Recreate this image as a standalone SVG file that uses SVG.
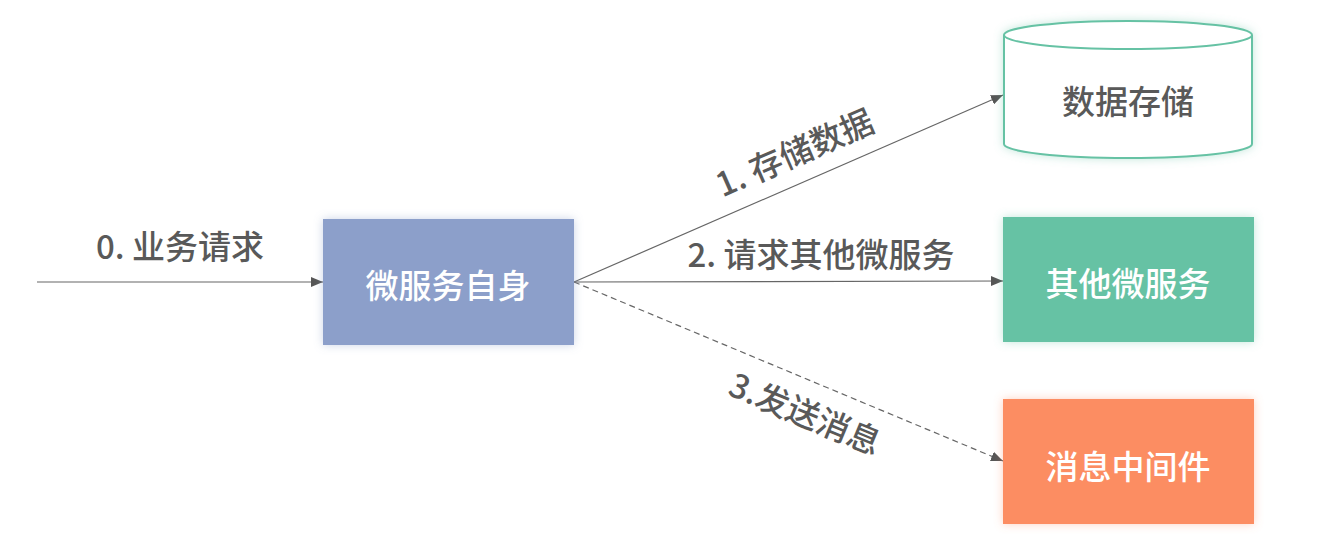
<svg xmlns="http://www.w3.org/2000/svg" width="1320" height="547" viewBox="0 0 1320 547">
<style>
.lbl{font-family:"Noto Sans CJK SC","Noto Sans",sans-serif;font-size:33px;font-weight:500;fill:#595959;text-anchor:middle;dominant-baseline:central}
.ntx{font-family:"Noto Sans CJK SC","Noto Sans",sans-serif;font-size:33px;font-weight:500;fill:#ffffff;text-anchor:middle;dominant-baseline:central}
.ctx{font-family:"Noto Sans CJK SC","Noto Sans",sans-serif;font-size:33px;font-weight:500;fill:#595959;text-anchor:middle;dominant-baseline:central}
.ln{stroke:#666666;stroke-width:1.2;fill:none}
</style>
<defs>
<marker id="ah" viewBox="0 0 12 10" refX="12" refY="5" markerWidth="12" markerHeight="10" markerUnits="userSpaceOnUse" orient="auto">
<path d="M0,0 L12,5 L0,10 Z" fill="#555555"/>
</marker>
<filter id="gb" x="-20%" y="-30%" width="140%" height="160%"><feDropShadow dx="0" dy="0" stdDeviation="5" flood-color="#8c9fca" flood-opacity="0.45"/></filter>
<filter id="gg" x="-20%" y="-30%" width="140%" height="160%"><feDropShadow dx="0" dy="0" stdDeviation="5" flood-color="#66c2a4" flood-opacity="0.4"/></filter>
<filter id="go" x="-20%" y="-30%" width="140%" height="160%"><feDropShadow dx="0" dy="0" stdDeviation="5" flood-color="#fc8d62" flood-opacity="0.4"/></filter>
</defs>
<g id="connectors">
<line class="ln" x1="37" y1="282" x2="323" y2="282" marker-end="url(#ah)"/>
<line class="ln" x1="574" y1="282" x2="1003" y2="95" marker-end="url(#ah)"/>
<line class="ln" x1="574" y1="282" x2="1003" y2="281" marker-end="url(#ah)"/>
<line class="ln" x1="574" y1="282" x2="1003" y2="461" stroke-dasharray="6,4" marker-end="url(#ah)"/>
<text class="lbl" x="180" y="245">0. 业务请求</text>
<text class="lbl" transform="translate(794,151) rotate(-23.6)">1. 存储数据</text>
<text class="lbl" x="821" y="253">2. 请求其他微服务</text>
<text class="lbl" transform="translate(806,412) rotate(22.5)">3.发送消息</text>
</g>
<g id="node-self">
<rect x="323" y="219" width="251" height="126" fill="#8c9fca" filter="url(#gb)"/>
<text class="ntx" x="448" y="284">微服务自身</text>
</g>
<g id="node-storage">
<path d="M1004,35 L1004,144 A124,14 0 0 0 1252,144 L1252,35 A124,14 0 0 0 1004,35 Z" fill="#ffffff" stroke="#66c2a4" stroke-width="2" filter="url(#gg)"/>
<path d="M1004,35 A124,14 0 0 0 1252,35" fill="none" stroke="#66c2a4" stroke-width="2"/>
<text class="ctx" x="1128" y="100">数据存储</text>
</g>
<g id="node-service">
<rect x="1003" y="217" width="251" height="125" fill="#66c2a4" filter="url(#gg)"/>
<text class="ntx" x="1128" y="282">其他微服务</text>
</g>
<g id="node-mq">
<rect x="1003" y="399" width="251" height="125" fill="#fc8d62" filter="url(#go)"/>
<text class="ntx" x="1128" y="465">消息中间件</text>
</g>
</svg>
